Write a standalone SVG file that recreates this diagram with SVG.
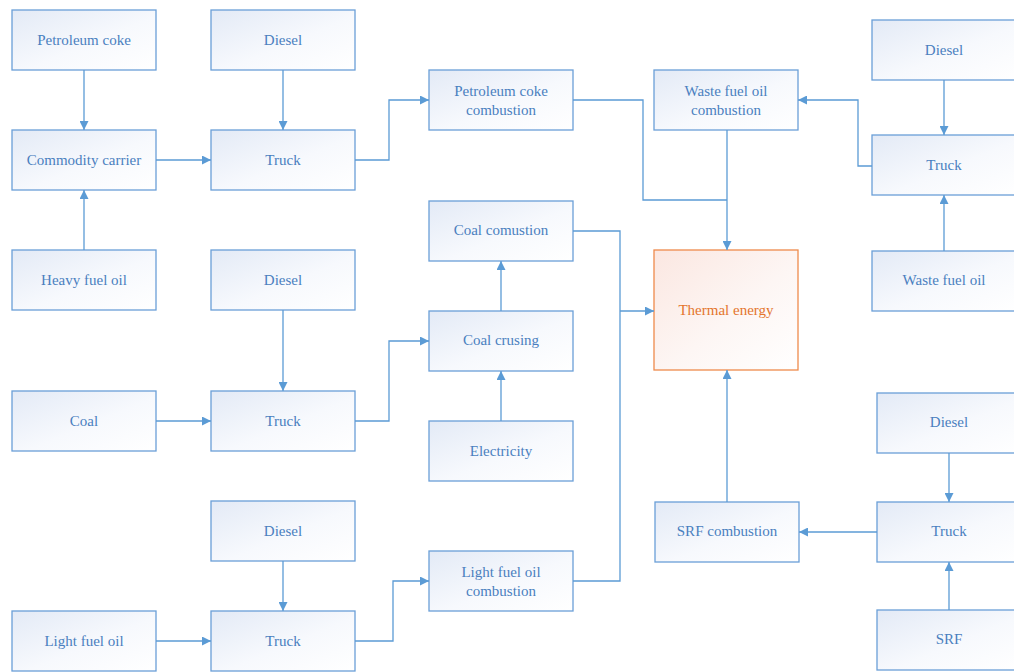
<svg xmlns="http://www.w3.org/2000/svg" width="1014" height="672" viewBox="0 0 1014 672">
  <defs>
    <linearGradient id="gBlue" x1="0" y1="0" x2="1" y2="1">
      <stop offset="0" stop-color="#e3eaf6"/>
      <stop offset="0.55" stop-color="#f7f9fd"/>
      <stop offset="1" stop-color="#ffffff"/>
    </linearGradient>
    <linearGradient id="gOrange" x1="0" y1="0" x2="1" y2="1">
      <stop offset="0" stop-color="#fbe7e1"/>
      <stop offset="0.55" stop-color="#fdf6f4"/>
      <stop offset="1" stop-color="#ffffff"/>
    </linearGradient>
    <marker id="arr" viewBox="0 0 10 10" refX="10" refY="5" markerWidth="9" markerHeight="9" markerUnits="userSpaceOnUse" orient="auto">
      <path d="M0,0 L10,5 L0,10 Z" fill="#5b9bd5"/>
    </marker>
  </defs>
  <style>
    .box rect { fill: url(#gBlue); stroke: #6a9fd8; stroke-width: 1.3; }
    .box text { font-family: "Liberation Serif", "Times New Roman", serif; font-size: 15px; fill: #4a7fbf; text-anchor: middle; dominant-baseline: central; }
    .hot rect { fill: url(#gOrange); stroke: #ee8a4c; stroke-width: 1.3; }
    .hot text { font-family: "Liberation Serif", "Times New Roman", serif; font-size: 15px; fill: #e4752c; text-anchor: middle; dominant-baseline: central; }
    #connectors path { fill: none; stroke: #5b9bd5; stroke-width: 1.3; marker-end: url(#arr); }
    #connectors path.plain { marker-end: none; }
  </style>
  <rect width="1014" height="672" fill="#ffffff"/>

  <!-- column 1 -->
  <g id="petroleum-coke" class="box"><rect x="12" y="10" width="144" height="60"/><text x="84" y="40">Petroleum coke</text></g>
  <g id="commodity-carrier" class="box"><rect x="12" y="130" width="144" height="60"/><text x="84" y="160">Commodity carrier</text></g>
  <g id="heavy-fuel-oil" class="box"><rect x="12" y="250" width="144" height="60"/><text x="84" y="280">Heavy fuel oil</text></g>
  <g id="coal" class="box"><rect x="12" y="391" width="144" height="60"/><text x="84" y="421">Coal</text></g>
  <g id="light-fuel-oil" class="box"><rect x="12" y="611" width="144" height="60"/><text x="84" y="641">Light fuel oil</text></g>

  <!-- column 2 -->
  <g id="diesel-1" class="box"><rect x="211" y="10" width="144" height="60"/><text x="283" y="40">Diesel</text></g>
  <g id="truck-1" class="box"><rect x="211" y="130" width="144" height="60"/><text x="283" y="160">Truck</text></g>
  <g id="diesel-2" class="box"><rect x="211" y="250" width="144" height="60"/><text x="283" y="280">Diesel</text></g>
  <g id="truck-2" class="box"><rect x="211" y="391" width="144" height="60"/><text x="283" y="421">Truck</text></g>
  <g id="diesel-3" class="box"><rect x="211" y="501" width="144" height="60"/><text x="283" y="531">Diesel</text></g>
  <g id="truck-3" class="box"><rect x="211" y="611" width="144" height="60"/><text x="283" y="641">Truck</text></g>

  <!-- column 3 -->
  <g id="petcoke-combustion" class="box"><rect x="429" y="70" width="144" height="60"/><text x="501" y="90.5">Petroleum coke</text><text x="501" y="109.5">combustion</text></g>
  <g id="coal-combustion" class="box"><rect x="429" y="201" width="144" height="60"/><text x="501" y="230">Coal comustion</text></g>
  <g id="coal-crushing" class="box"><rect x="429" y="311" width="144" height="60"/><text x="501" y="340">Coal crusing</text></g>
  <g id="electricity" class="box"><rect x="429" y="421" width="144" height="60"/><text x="501" y="451">Electricity</text></g>
  <g id="lfo-combustion" class="box"><rect x="429" y="551" width="144" height="60"/><text x="501" y="571.5">Light fuel oil</text><text x="501" y="590.5">combustion</text></g>

  <!-- column 4 -->
  <g id="wfo-combustion" class="box"><rect x="654" y="70" width="144" height="60"/><text x="726" y="90.5">Waste fuel oil</text><text x="726" y="109.5">combustion</text></g>
  <g id="thermal-energy" class="hot"><rect x="654" y="250" width="144" height="120"/><text x="726" y="310">Thermal energy</text></g>
  <g id="srf-combustion" class="box"><rect x="655" y="502" width="144" height="60"/><text x="727" y="531">SRF combustion</text></g>

  <!-- column 5 -->
  <g id="diesel-4" class="box"><rect x="872" y="20" width="144" height="60"/><text x="944" y="50">Diesel</text></g>
  <g id="truck-4" class="box"><rect x="872" y="135" width="144" height="60"/><text x="944" y="165">Truck</text></g>
  <g id="waste-fuel-oil" class="box"><rect x="872" y="251" width="144" height="60"/><text x="944" y="280">Waste fuel oil</text></g>
  <g id="diesel-5" class="box"><rect x="877" y="393" width="144" height="60"/><text x="949" y="422">Diesel</text></g>
  <g id="truck-5" class="box"><rect x="877" y="502" width="144" height="60"/><text x="949" y="531">Truck</text></g>
  <g id="srf" class="box"><rect x="877" y="610" width="144" height="60"/><text x="949" y="639">SRF</text></g>

  <g id="connectors">
    <!-- petroleum coke chain -->
    <path d="M84,70 V130"/>
    <path d="M84,250 V190"/>
    <path d="M156,160 H211"/>
    <path d="M283,70 V130"/>
    <path d="M355,160 H389 V100 H429"/>
    <path class="plain" d="M573,100 H643 V200 H727"/>
    <path d="M727,130 V250"/>
    <!-- waste fuel oil chain -->
    <path d="M944,80 V135"/>
    <path d="M944,251 V195"/>
    <path d="M872,166 H858 V100 H798"/>
    <!-- coal chain -->
    <path d="M156,421 H211"/>
    <path d="M283,310 V391"/>
    <path d="M355,421 H389 V341 H429"/>
    <path d="M501,421 V371"/>
    <path d="M501,311 V261"/>
    <path class="plain" d="M573,231 H620 V581 H573"/>
    <path d="M620,311 H654"/>
    <!-- light fuel oil chain -->
    <path d="M156,641 H211"/>
    <path d="M283,561 V611"/>
    <path d="M355,641 H393 V581 H429"/>
    <!-- SRF chain -->
    <path d="M949,453 V502"/>
    <path d="M949,610 V562"/>
    <path d="M877,532 H799"/>
    <path d="M727,502 V370"/>
  </g>
</svg>
